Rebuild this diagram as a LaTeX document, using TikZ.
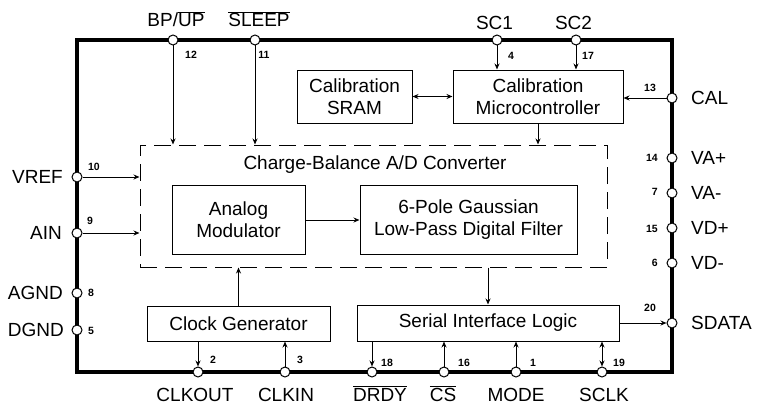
\documentclass[tikz,border=0pt]{standalone}
\usepackage{fontspec}
\setmainfont{Liberation Sans}
\usetikzlibrary{arrows.meta}
\tikzset{
  lbl/.style={font=\fontsize{19}{22}\selectfont, inner sep=0pt},
  num/.style={font=\fontsize{10.5}{12}\selectfont\bfseries, inner sep=0pt},
  blk/.style={draw, line width=1pt, inner sep=0pt, align=center, font=\fontsize{19}{22}\selectfont},
  pinc/.style={circle, draw, fill=white, line width=1pt, minimum size=10pt, inner sep=0pt},
  arr/.style={line width=1pt, -{Stealth[length=6pt,width=5pt]}},
  darr/.style={line width=1pt, {Stealth[length=6pt,width=5pt]}-{Stealth[length=6pt,width=5pt]}},
}
\begin{document}
\begin{tikzpicture}[x=1pt,y=-1pt]
\useasboundingbox (0,0) rectangle (759,404);
% outer border
\draw[line width=4.8pt] (77,40) rectangle (672,372);
% blocks
\node[blk, minimum width=115pt, minimum height=53pt] (sram) at (354.5,96.5) {Calibration\\SRAM};
\node[blk, minimum width=170pt, minimum height=53pt] (micro) at (538,96.5) {Calibration\\Microcontroller};
\node[draw, line width=1pt, dash pattern=on 17pt off 8pt, minimum width=467pt, minimum height=122pt, inner sep=0pt] (adc) at (373.5,206) {};
\node[lbl] (adctitle) at (375,165) {Charge-Balance A/D Converter};
\node[blk, minimum width=133pt, minimum height=69pt] (mod) at (238.5,220) {Analog\\Modulator};
\node[blk, minimum width=217pt, minimum height=69pt] (filt) at (468.5,220) {6-Pole Gaussian\\Low-Pass Digital Filter};
\node[blk, minimum width=183pt, minimum height=35pt] (clk) at (238.5,323.5) {Clock Generator};
\node[blk, minimum width=262pt, minimum height=36pt] (ser) at (488,323) {Serial Interface Logic};
% pins
\node[pinc] (pBP) at (173,40) {};
\node[pinc] (pSL) at (255,40) {};
\node[pinc] (pSC1) at (497,40) {};
\node[pinc] (pSC2) at (576,40) {};
\node[pinc] (pCAL) at (672,98) {};
\node[pinc] (pVAp) at (672,158) {};
\node[pinc] (pVAm) at (672,193) {};
\node[pinc] (pVDp) at (672,228) {};
\node[pinc] (pVDm) at (672,263) {};
\node[pinc] (pSD) at (672,323) {};
\node[pinc] (pVREF) at (77,177) {};
\node[pinc] (pAIN) at (77,233) {};
\node[pinc] (pAG) at (77,293) {};
\node[pinc] (pDG) at (77,330) {};
\node[pinc] (pCO) at (198,372) {};
\node[pinc] (pCI) at (285,372) {};
\node[pinc] (pDR) at (372,372) {};
\node[pinc] (pCS) at (444,372) {};
\node[pinc] (pMO) at (516,372) {};
\node[pinc] (pSK) at (602,372) {};
% connectors
\draw[arr] (pBP) -- (pBP |- adc.north);
\draw[arr] (pSL) -- (pSL |- adc.north);
\draw[arr] (pSC1) -- (pSC1 |- micro.north);
\draw[arr] (pSC2) -- (pSC2 |- micro.north);
\draw[arr] (pCAL) -- (micro.east |- pCAL);
\draw[darr] (sram.east) -- (micro.west);
\draw[arr] (micro.south) -- (micro.south |- adc.north);
\draw[arr] (pVREF) -- (adc.west |- pVREF);
\draw[arr] (pAIN) -- (adc.west |- pAIN);
\draw[arr] (mod.east) -- (filt.west);
\draw[arr] (clk.north) -- (clk.north |- adc.south);
\draw[arr] (adc.south -| ser.north) -- (ser.north);
\draw[arr] (ser.east |- pSD) -- (pSD);
\draw[arr] (clk.south -| pCO) -- (pCO);
\draw[arr] (pCI) -- (clk.south -| pCI);
\draw[arr] (ser.south -| pDR) -- (pDR);
\draw[arr] (pCS) -- (ser.south -| pCS);
\draw[arr] (pMO) -- (ser.south -| pMO);
\draw[darr] (pSK) -- (ser.south -| pSK);
% pin labels
\node[lbl, anchor=base] (lBP) at (176,27) {BP/$\overline{\mbox{UP}}$};
\node[lbl, anchor=base] (lSL) at (259,27) {$\overline{\mbox{SLEEP}}$};
\node[lbl, anchor=base] (lSC1) at (494.5,30) {SC1};
\node[lbl, anchor=base] (lSC2) at (573.5,30) {SC2};
\node[lbl, anchor=west] (lCAL) at (691,98) {CAL};
\node[lbl, anchor=west] (lVAp) at (691,158) {VA+};
\node[lbl, anchor=west] (lVAm) at (691,193) {VA-};
\node[lbl, anchor=west] (lVDp) at (691,228) {VD+};
\node[lbl, anchor=west] (lVDm) at (691,263) {VD-};
\node[lbl, anchor=west] (lSD) at (691,323) {SDATA};
\node[lbl, anchor=east] (lVREF) at (63,177) {VREF};
\node[lbl, anchor=east] (lAIN) at (62,233) {AIN};
\node[lbl, anchor=east] (lAG) at (63,293) {AGND};
\node[lbl, anchor=east] (lDG) at (64,330) {DGND};
\node[lbl, anchor=base] (lCO) at (195,401) {CLKOUT};
\node[lbl, anchor=base] (lCI) at (286,401) {CLKIN};
\node[lbl, anchor=base] (lDR) at (380,401) {$\overline{\mbox{DRDY}}$};
\node[lbl, anchor=base] (lCS) at (443,401) {$\overline{\mbox{CS}}$};
\node[lbl, anchor=base] (lMO) at (516,401) {MODE};
\node[lbl, anchor=base] (lSK) at (604,401) {SCLK};
% pin numbers
\node[num] (n12) at (191,55) {12};
\node[num] (n11) at (264,55) {11};
\node[num] (n4) at (511,56) {4};
\node[num] (n17) at (588,56) {17};
\node[num] (n13) at (650,88) {13};
\node[num, anchor=east] (n14) at (658,158) {14};
\node[num, anchor=east] (n7) at (658,192) {7};
\node[num, anchor=east] (n15) at (658,229) {15};
\node[num, anchor=east] (n6) at (658,263) {6};
\node[num] (n20) at (650,308) {20};
\node[num] (n10) at (94,167) {10};
\node[num] (n9) at (90,221) {9};
\node[num] (n8) at (91,293) {8};
\node[num] (n5) at (91,331) {5};
\node[num] (n2) at (213,360) {2};
\node[num] (n3) at (300,360) {3};
\node[num] (n18) at (387,363) {18};
\node[num] (n16) at (464,363) {16};
\node[num] (n1) at (533,363) {1};
\node[num] (n19) at (619,363) {19};
\end{tikzpicture}
\end{document}
